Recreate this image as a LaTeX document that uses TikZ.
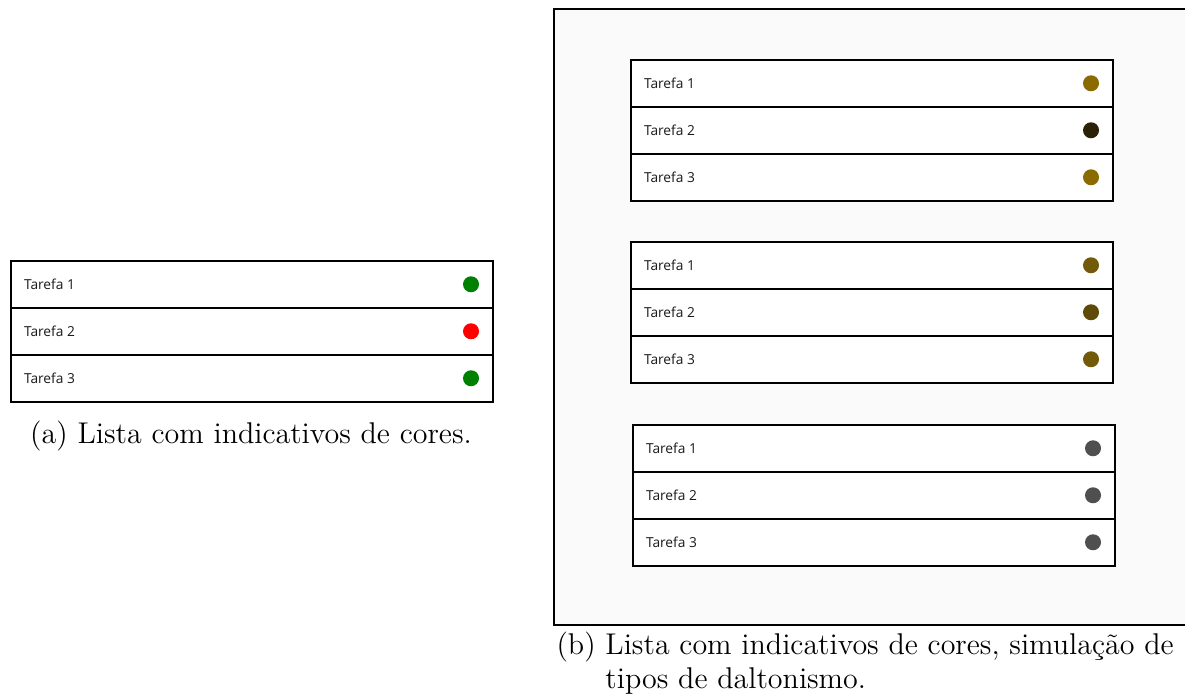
\documentclass[tikz,border=0pt]{standalone}
\usepackage{fontspec}
\usepackage{xcolor}
\usepackage{tikz}
\usetikzlibrary{positioning}
\newfontfamily\uifont{Open Sans}
\definecolor{cOk}{HTML}{008000}
\definecolor{cErr}{HTML}{FF0000}
\definecolor{cProA}{HTML}{8B6A00}
\definecolor{cProB}{HTML}{2B2008}
\definecolor{cDeuA}{HTML}{735A0A}
\definecolor{cDeuB}{HTML}{5E4A06}
\definecolor{cAchro}{HTML}{4F4F4F}
\definecolor{cBack}{HTML}{FAFAFA}
\tikzset{
  row/.style={draw=black, line width=0.6pt, fill=white, anchor=north west,
              minimum width=192.8pt, minimum height=18.8pt, inner sep=0pt},
  task/.style={font=\uifont\fontsize{5.5}{6.5}\selectfont, text=black!90, inner sep=0pt},
  dot/.style={circle, fill=#1, minimum size=6.4pt, inner sep=0pt},
  frame/.style={line width=0.9pt, draw=black},
  capt/.style={font=\fontsize{12}{13.4}\selectfont, inner sep=0pt},
}

\begin{document}
\begin{tikzpicture}[x=0.4pt, y=-0.4pt]
  \useasboundingbox (0,0) rectangle (1185,696);
  % simulation panel
  \coordinate (frTL) at (554,9);
  \coordinate (frBR) at (1185,625);
  \fill[cBack] (frTL) rectangle (frBR);
  \draw[frame] (frTL -| frBR) -- (frTL) -- (frTL |- frBR) -- (frBR);
  % task lists: name / top-left / dot colours
  \foreach \lst/\x/\y/\ca/\cb/\cc in {a/10/260/cOk/cErr/cOk,
      p/630/59/cProA/cProB/cProA, d/630/241/cDeuA/cDeuB/cDeuA,
      t/632/424/cAchro/cAchro/cAchro}{
    \foreach \i/\col in {1/\ca,2/\cb,3/\cc}{
      \node[row] (\lst\i) at (\x,{\y+47*(\i-1)}) {};
      \node[task, anchor=west, right=5.4pt of \lst\i.west] (\lst\i t) {Tarefa \i};
      \node[dot=\col, left=5.6pt of \lst\i.east] (\lst\i d) {};
    }
  }
  % captions
  \node[capt, anchor=base] (capa) at (251,443) {(a) Lista com indicativos de cores.};
  \node[capt, anchor=base west, align=left] (capb) at (556,688)
    {(b) Lista com indicativos de cores, simulação de\\\hphantom{(b) }tipos de daltonismo.};
\end{tikzpicture}
\end{document}
